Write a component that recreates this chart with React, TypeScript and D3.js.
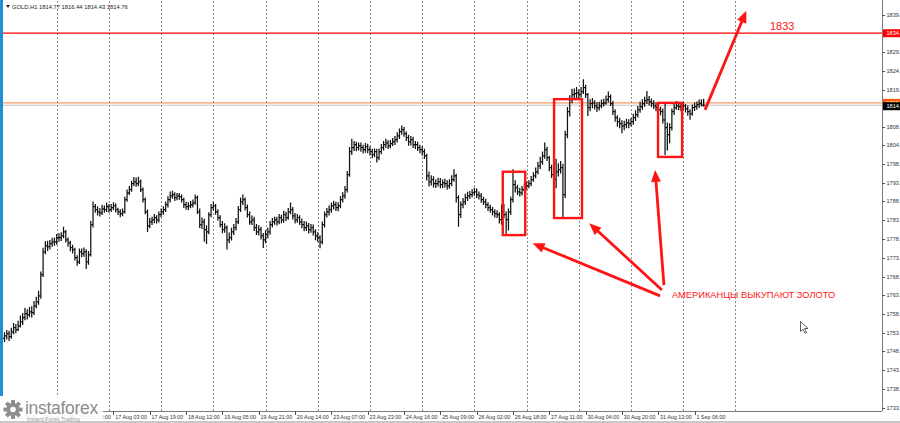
import React from 'react';
import * as d3 from 'd3';

// ---------- DATA ----------
const firstOpen = 1751.8;
const closes: number[] = [
  1752.5, 1753.1, 1752.3, 1753.6, 1754.7, 1754.2, 1755.2, 1756.3, 1757.4, 1758.5,
  1758.2, 1759.0, 1758.8, 1760.6, 1761.7, 1763.3, 1769.0, 1775.2, 1776.8, 1776.6,
  1777.4, 1777.9, 1777.9, 1779.0, 1779.0, 1779.5, 1780.6, 1778.4, 1777.6, 1776.3,
  1775.8, 1773.6, 1772.5, 1775.2, 1774.7, 1775.2, 1772.5, 1774.4, 1782.5, 1787.4,
  1786.6, 1786.0, 1785.7, 1786.8, 1786.6, 1787.4, 1786.6, 1787.1, 1787.6, 1786.6,
  1786.0, 1785.5, 1786.0, 1789.3, 1791.1, 1792.0, 1793.6, 1794.1, 1793.6, 1794.1,
  1792.0, 1789.3, 1786.0, 1782.2, 1783.3, 1783.8, 1784.4, 1783.8, 1785.2, 1786.0,
  1786.6, 1787.9, 1789.3, 1790.3, 1790.6, 1789.8, 1790.3, 1790.1, 1789.3, 1787.9,
  1787.4, 1787.6, 1787.9, 1788.4, 1789.8, 1786.0, 1782.5, 1783.3, 1781.2, 1780.6,
  1785.2, 1787.1, 1787.6, 1786.0, 1784.4, 1782.5, 1781.2, 1781.7, 1778.4, 1779.0,
  1780.6, 1781.7, 1783.3, 1786.6, 1788.7, 1789.3, 1787.1, 1785.2, 1783.3, 1783.8,
  1781.7, 1780.6, 1781.2, 1779.5, 1778.4, 1779.8, 1780.6, 1782.5, 1783.3, 1783.8,
  1783.3, 1784.4, 1783.8, 1785.2, 1784.4, 1786.0, 1786.6, 1784.9, 1783.8, 1784.4,
  1783.3, 1782.5, 1781.7, 1782.2, 1781.2, 1781.7, 1780.6, 1779.5, 1779.0, 1777.9,
  1782.5, 1785.2, 1786.0, 1786.6, 1787.6, 1787.9, 1787.1, 1787.6, 1789.3, 1790.3,
  1792.0, 1796.0, 1802.2, 1803.3, 1804.1, 1803.3, 1803.8, 1803.3, 1802.8, 1803.6,
  1802.8, 1802.2, 1801.4, 1802.2, 1800.6, 1802.2, 1803.3, 1804.1, 1804.6, 1803.8,
  1804.4, 1804.9, 1805.5, 1806.5, 1807.6, 1808.2, 1807.1, 1806.0, 1804.9, 1805.5,
  1804.1, 1804.1, 1803.3, 1802.8, 1802.2, 1801.1, 1795.7, 1794.1, 1794.7, 1793.6,
  1793.6, 1794.1, 1793.3, 1793.8, 1793.6, 1793.0, 1793.6, 1794.7, 1795.7, 1789.8,
  1785.2, 1787.9, 1788.7, 1789.8, 1790.3, 1790.6, 1791.1, 1791.4, 1790.6, 1790.3,
  1789.3, 1788.7, 1787.9, 1787.1, 1786.6, 1786.0, 1785.5, 1785.2, 1783.9, 1787.1,
  1785.2, 1783.9, 1786.0, 1789.3, 1793.3, 1792.5, 1791.4, 1791.1, 1792.0, 1792.8,
  1793.0, 1793.6, 1794.7, 1795.7, 1796.8, 1798.4, 1799.5, 1801.1, 1802.8, 1800.6,
  1797.9, 1796.0, 1794.7, 1796.8, 1797.4, 1797.9, 1790.6, 1806.8, 1813.0, 1816.3,
  1817.6, 1817.9, 1818.1, 1817.6, 1818.4, 1819.5, 1817.6, 1814.1, 1815.2, 1815.4,
  1814.6, 1814.1, 1814.6, 1815.2, 1815.4, 1816.3, 1817.1, 1815.2, 1813.0, 1811.4,
  1810.3, 1809.8, 1809.2, 1809.5, 1810.0, 1809.8, 1810.3, 1811.4, 1812.2, 1813.5,
  1814.4, 1815.2, 1816.0, 1816.3, 1815.7, 1815.2, 1814.6, 1814.1, 1813.5, 1813.0,
  1810.8, 1808.7, 1806.8, 1808.7, 1813.0, 1814.1, 1814.6, 1814.4, 1814.1, 1814.6,
  1813.8, 1813.0, 1812.5, 1814.1, 1814.4, 1814.9, 1815.2, 1814.77, 1814.76,
];
const highs: number[] = [
  1753.4, 1754.0, 1753.8, 1754.6, 1755.9, 1755.6, 1756.5, 1757.9, 1758.6, 1760.0,
  1759.6, 1760.2, 1760.4, 1761.8, 1763.0, 1764.6, 1769.8, 1776.2, 1778.0, 1778.1,
  1778.3, 1778.9, 1779.0, 1779.9, 1780.1, 1780.4, 1781.9, 1781.0, 1779.0, 1778.1,
  1777.0, 1776.2, 1774.2, 1776.0, 1776.0, 1776.3, 1775.8, 1775.3, 1783.4, 1788.7,
  1788.0, 1787.4, 1786.9, 1787.8, 1787.6, 1788.4, 1788.0, 1788.0, 1788.5, 1788.2,
  1787.0, 1786.6, 1786.8, 1790.0, 1791.9, 1792.9, 1794.3, 1795.3, 1795.2, 1795.4,
  1794.6, 1792.5, 1789.8, 1786.5, 1784.2, 1784.6, 1785.3, 1785.0, 1786.0, 1786.8,
  1787.4, 1788.7, 1790.1, 1791.4, 1791.6, 1791.2, 1791.0, 1791.0, 1790.6, 1789.7,
  1788.6, 1788.5, 1788.8, 1789.2, 1790.6, 1790.3, 1786.8, 1784.4, 1784.0, 1782.3,
  1785.8, 1788.0, 1788.6, 1788.0, 1786.6, 1785.0, 1783.4, 1782.8, 1782.2, 1780.3,
  1781.6, 1782.6, 1784.2, 1787.5, 1789.8, 1790.6, 1789.8, 1787.9, 1786.0, 1784.9,
  1784.6, 1782.6, 1782.3, 1781.9, 1780.2, 1780.9, 1781.6, 1783.4, 1784.2, 1784.6,
  1784.6, 1785.3, 1785.1, 1786.2, 1785.9, 1786.9, 1788.4, 1787.2, 1785.6, 1785.3,
  1785.0, 1784.1, 1783.4, 1783.3, 1782.9, 1782.6, 1782.5, 1781.2, 1780.4, 1779.6,
  1783.3, 1786.0, 1786.9, 1787.6, 1788.4, 1788.9, 1788.6, 1788.5, 1790.2, 1791.2,
  1792.9, 1796.9, 1803.4, 1805.6, 1805.0, 1804.8, 1804.6, 1804.6, 1804.0, 1804.5,
  1804.3, 1803.6, 1802.9, 1803.0, 1802.9, 1803.0, 1804.2, 1805.0, 1805.6, 1805.2,
  1805.3, 1805.8, 1806.4, 1807.4, 1808.4, 1809.2, 1808.8, 1807.6, 1806.7, 1806.4,
  1806.2, 1805.0, 1804.8, 1804.0, 1803.6, 1802.9, 1801.6, 1796.8, 1795.8, 1795.5,
  1794.6, 1795.1, 1795.0, 1794.6, 1794.8, 1794.4, 1794.7, 1795.8, 1797.4, 1796.2,
  1790.4, 1788.7, 1789.6, 1790.8, 1791.3, 1791.5, 1792.0, 1792.4, 1792.2, 1791.4,
  1791.0, 1790.0, 1789.4, 1788.5, 1787.8, 1787.2, 1786.6, 1786.3, 1785.8, 1787.9,
  1788.0, 1786.0, 1786.8, 1790.0, 1797.4, 1794.4, 1793.2, 1792.4, 1792.9, 1793.6,
  1794.0, 1794.4, 1795.6, 1796.6, 1797.9, 1799.4, 1800.8, 1802.2, 1804.6, 1803.5,
  1801.0, 1798.6, 1796.8, 1800.2, 1799.0, 1799.6, 1798.9, 1807.8, 1814.2, 1817.4,
  1819.1, 1819.2, 1819.6, 1819.0, 1819.6, 1821.7, 1820.2, 1818.0, 1816.3, 1816.6,
  1816.0, 1815.5, 1815.6, 1816.2, 1816.4, 1817.3, 1818.4, 1817.6, 1815.8, 1813.6,
  1812.0, 1811.3, 1810.6, 1810.5, 1811.0, 1810.9, 1811.2, 1812.4, 1813.3, 1814.5,
  1815.6, 1816.3, 1817.0, 1818.5, 1817.2, 1816.5, 1816.0, 1815.4, 1814.8, 1814.3,
  1813.8, 1815.4, 1810.0, 1809.8, 1813.8, 1815.2, 1815.8, 1815.6, 1815.4, 1815.6,
  1815.0, 1814.6, 1813.6, 1814.9, 1815.4, 1815.7, 1816.2, 1816.3, 1816.44,
];
const lows: number[] = [
  1750.9, 1751.6, 1751.2, 1751.8, 1753.0, 1753.3, 1753.8, 1754.8, 1755.5, 1756.8,
  1757.0, 1757.6, 1757.5, 1758.2, 1760.0, 1761.0, 1762.6, 1768.5, 1774.6, 1775.5,
  1775.9, 1776.6, 1776.9, 1777.2, 1778.0, 1778.2, 1778.9, 1777.8, 1776.6, 1775.4,
  1774.8, 1772.9, 1771.5, 1772.0, 1773.8, 1773.9, 1770.6, 1771.8, 1774.0, 1781.8,
  1785.8, 1785.1, 1784.8, 1785.2, 1785.8, 1786.0, 1785.9, 1786.0, 1786.5, 1785.9,
  1785.2, 1784.6, 1784.9, 1785.6, 1788.8, 1790.6, 1791.5, 1793.0, 1792.8, 1793.0,
  1791.4, 1788.6, 1785.4, 1780.6, 1781.6, 1782.5, 1783.0, 1782.9, 1783.2, 1784.6,
  1785.3, 1786.0, 1787.2, 1788.6, 1789.6, 1789.0, 1789.2, 1789.3, 1788.6, 1787.1,
  1786.6, 1786.5, 1787.0, 1787.2, 1788.0, 1785.5, 1781.7, 1781.4, 1778.0, 1777.4,
  1780.0, 1784.6, 1786.4, 1785.3, 1783.7, 1781.8, 1780.3, 1780.4, 1775.9, 1777.6,
  1778.3, 1779.8, 1781.0, 1782.8, 1786.0, 1787.9, 1786.4, 1784.5, 1782.6, 1782.5,
  1780.9, 1779.8, 1779.7, 1778.6, 1776.3, 1777.6, 1778.9, 1779.9, 1781.8, 1782.6,
  1782.4, 1782.7, 1783.0, 1783.1, 1783.6, 1783.9, 1785.4, 1784.0, 1782.9, 1783.1,
  1782.5, 1781.6, 1780.8, 1780.9, 1780.2, 1780.4, 1779.7, 1778.4, 1777.9, 1776.2,
  1777.3, 1781.8, 1784.5, 1785.1, 1785.8, 1786.7, 1786.3, 1786.2, 1787.0, 1788.6,
  1789.6, 1791.3, 1795.5, 1801.4, 1802.5, 1802.4, 1802.6, 1802.3, 1801.8, 1802.0,
  1801.9, 1801.3, 1800.5, 1800.8, 1799.4, 1800.0, 1801.6, 1802.6, 1803.3, 1803.0,
  1803.2, 1803.8, 1804.1, 1804.8, 1805.7, 1806.9, 1806.3, 1805.2, 1803.9, 1804.0,
  1803.3, 1803.0, 1802.5, 1801.9, 1801.3, 1800.3, 1794.5, 1792.9, 1793.2, 1792.6,
  1792.5, 1792.9, 1792.4, 1792.5, 1792.6, 1792.0, 1792.3, 1793.0, 1794.2, 1788.6,
  1782.0, 1784.4, 1787.0, 1787.9, 1789.0, 1789.5, 1790.0, 1790.4, 1789.8, 1789.4,
  1788.5, 1787.9, 1787.0, 1786.3, 1785.8, 1785.1, 1784.5, 1784.4, 1782.9, 1782.6,
  1784.3, 1780.1, 1781.0, 1785.2, 1788.6, 1791.3, 1790.6, 1790.2, 1790.5, 1791.5,
  1792.1, 1792.4, 1793.0, 1794.2, 1795.1, 1796.2, 1797.6, 1798.8, 1800.4, 1799.8,
  1797.0, 1795.2, 1793.8, 1792.4, 1795.6, 1796.4, 1784.6, 1789.8, 1805.9, 1811.8,
  1815.4, 1816.6, 1816.8, 1816.5, 1816.9, 1817.9, 1816.8, 1811.9, 1813.2, 1814.0,
  1813.7, 1813.0, 1813.4, 1814.0, 1814.5, 1815.0, 1815.6, 1814.6, 1812.2, 1810.4,
  1809.0, 1808.6, 1807.3, 1808.1, 1808.6, 1808.6, 1809.1, 1809.6, 1810.6, 1811.5,
  1812.8, 1813.6, 1814.4, 1815.2, 1814.8, 1814.3, 1813.8, 1813.2, 1812.6, 1812.1,
  1809.9, 1801.4, 1802.6, 1804.6, 1808.0, 1812.2, 1813.6, 1813.5, 1813.2, 1813.5,
  1812.9, 1812.0, 1810.9, 1812.0, 1813.3, 1813.6, 1814.1, 1814.5, 1814.43,
];

const priceTicks = [1839.2, 1829.2, 1824.1, 1819.0, 1808.9, 1804.0, 1798.9, 1793.8, 1788.8,
  1783.7, 1778.6, 1773.5, 1768.4, 1763.5, 1758.5, 1753.4, 1748.3, 1743.4, 1738.2, 1733.1];
const timeTickBars = [0, 16, 32, 48, 64, 80, 96, 112, 128, 144, 160, 176, 192, 208, 224, 240, 256, 272, 288, 304];
const timeTickLabels = ['13 Aug 2021', '13 Aug 17:00', '16 Aug 10:00', '17 Aug 03:00', '17 Aug 19:00',
  '18 Aug 12:00', '19 Aug 05:00', '19 Aug 21:00', '20 Aug 14:00', '23 Aug 07:00', '23 Aug 23:00',
  '24 Aug 16:00', '25 Aug 09:00', '26 Aug 02:00', '26 Aug 18:00', '27 Aug 11:00', '30 Aug 04:00',
  '30 Aug 20:00', '31 Aug 13:00', '1 Sep 06:00'];
const dayStartBars = [23, 46, 69, 92, 115, 138, 161, 184, 207, 230, 253, 276, 299, 322];

const levelPrice = 1834.2;
const askPrice = 1815.4;
const bidPrice = 1814.76;
const headerText = 'GOLD,H1  1814.77 1816.44 1814.43 1814.76';

// annotation boxes: [startBar, endBar, lowPrice, highPrice]
const boxes: [number, number, number, number][] = [
  [219.5, 229.4, 1779.7, 1796.8],
  [242.1, 254.4, 1784.3, 1816.4],
  [287.9, 298.5, 1800.8, 1815.4],
];
// arrows: [fromBar, fromPrice, toBar, toPrice]
const arrows: [number, number, number, number][] = [
  [288.8, 1763.3, 232.6, 1777.5],
  [289.6, 1764.9, 257.6, 1782.9],
  [290.5, 1766.2, 286.6, 1797.3],
  [308.6, 1813.5, 326.8, 1840.3],
];
const targetLabel = '1833';
const targetLabelPos: [number, number] = [337.2, 1835.0];
const noteText = 'АМЕРИКАНЦЫ ВЫКУПАЮТ ЗОЛОТО';
const notePos: [number, number] = [294.0, 1762.7];

// ---------- LAYOUT ----------
const W = 900, H = 423;
const plotLeft = 3, plotRight = 882, plotTop = 1, plotBottom = 411;
const x = d3.scaleLinear().domain([0, 308]).range([4.5, 4.5 + 308 * 2.27]);
const y = d3.scaleLinear().domain([1733.1, 1839.2]).range([407.7, 14.7]);
const FONT = '"Liberation Sans", Arial, sans-serif';
const RED = '#ff1414';
const AXF = 5.6;

function arrowHead(x1: number, y1: number, x2: number, y2: number, len = 12, half = 5) {
  const a = Math.atan2(y2 - y1, x2 - x1);
  const bx = x2 - len * Math.cos(a), by = y2 - len * Math.sin(a);
  const px = -Math.sin(a) * half, py = Math.cos(a) * half;
  return `M${x2},${y2}L${bx + px},${by + py}L${bx - px},${by - py}Z`;
}

export default function App() {
  const bars = closes.map((c, i) => {
    const o = i === 0 ? firstOpen : closes[i - 1];
    return { i, o, h: highs[i], l: lows[i], c };
  });
  const barPath = bars.map(b => {
    const cx = x(b.i);
    const yo = y(b.o), yc = y(b.c);
    return `M${cx},${y(b.h) - 0.3}V${y(b.l) + 0.3}M${cx - 1.4},${yo}H${cx}M${cx},${yc}H${cx + 1.4}`;
  }).join('');
  const snap = (v: number) => Math.round(v) + 0.5;

  return (
    <svg width={W} height={H} style={{ position: 'absolute', left: 0, top: 0, background: '#fff' }}
      fontFamily={FONT}>
      <rect x={0} y={0} width={W} height={H} fill="#fff" />
      {/* left blue strip */}
      <rect x={0} y={0} width={3} height={396} fill="#1e8fd6" />
      {/* vertical day grid */}
      {dayStartBars.map(d => (
        <line key={d} x1={snap(x(d))} x2={snap(x(d))} y1={plotTop} y2={plotBottom}
          stroke="#8a8a8a" strokeDasharray="2,2" strokeWidth={1} />
      ))}
      {/* level line */}
      <line x1={plotLeft} x2={plotRight} y1={y(levelPrice)} y2={y(levelPrice)}
        stroke="red" strokeWidth={1.2} />
      {/* ask / bid lines */}
      <line x1={plotLeft} x2={plotRight} y1={y(askPrice)} y2={y(askPrice)}
        stroke="#f79a6a" strokeWidth={1.1} />
      <line x1={plotLeft} x2={plotRight} y1={y(bidPrice)} y2={y(bidPrice)}
        stroke="#c4c4c4" strokeWidth={1} />
      {/* bars */}
      <path d={barPath} stroke="#111" strokeWidth={1.25} fill="none" />
      {/* annotation boxes */}
      {boxes.map((b, k) => (
        <rect key={k} x={x(b[0])} y={y(b[3])} width={x(b[1]) - x(b[0])} height={y(b[2]) - y(b[3])}
          fill="none" stroke={RED} strokeWidth={2.4} />
      ))}
      {/* arrows */}
      {arrows.map((a, k) => {
        const x1 = x(a[0]), y1 = y(a[1]), x2 = x(a[2]), y2 = y(a[3]);
        const ang = Math.atan2(y2 - y1, x2 - x1);
        const ex = x2 - 9 * Math.cos(ang), ey = y2 - 9 * Math.sin(ang);
        return (
          <g key={k}>
            <line x1={x1} y1={y1} x2={ex} y2={ey} stroke={RED} strokeWidth={2.8} />
            <path d={arrowHead(x1, y1, x2, y2)} fill={RED} />
          </g>
        );
      })}
      <text x={x(targetLabelPos[0])} y={y(targetLabelPos[1])} fill={RED} fontSize={11}>{targetLabel}</text>
      <text x={x(notePos[0])} y={y(notePos[1])} fill={RED} fontSize={9.3}>{noteText}</text>
      {/* header */}
      <path d="M6,5 L10,5 L8,8 Z" fill="#222" />
      <text x={12} y={9} fontSize={5.8} fill="#222">{headerText}</text>
      {/* right axis */}
      <line x1={plotRight + 0.5} x2={plotRight + 0.5} y1={0} y2={plotBottom} stroke="#7a7a7a" />
      {priceTicks.map(p => (
        <g key={p}>
          <line x1={plotRight} x2={plotRight + 3} y1={snap(y(p))} y2={snap(y(p))} stroke="#555" />
          <text x={plotRight + 4.5} y={y(p) + 2} fontSize={AXF} fill="#333">{p.toFixed(1)}</text>
        </g>
      ))}
      {/* price labels */}
      <rect x={plotRight + 1} y={y(levelPrice) - 4} width={20} height={8} fill="#ff0000" />
      <text x={plotRight + 4.5} y={y(levelPrice) + 2} fontSize={AXF} fill="#fff">{levelPrice.toFixed(1)}</text>
      <rect x={plotRight + 1} y={y(askPrice) - 4} width={20} height={8} fill="#ff5a10" />
      <text x={plotRight + 4.5} y={y(askPrice) + 2} fontSize={AXF} fill="#fff">{askPrice.toFixed(1)}</text>
      <rect x={plotRight + 1} y={y(bidPrice) - 3} width={20} height={8} fill="#000" />
      <text x={plotRight + 4.5} y={y(bidPrice) + 3} fontSize={AXF} fill="#fff">{bidPrice.toFixed(2)}</text>
      {/* bottom axis */}
      <line x1={plotLeft} x2={plotRight} y1={plotBottom + 0.5} y2={plotBottom + 0.5} stroke="#7a7a7a" />
      {timeTickBars.map((b, k) => (
        <g key={b}>
          <line x1={snap(x(b))} x2={snap(x(b))} y1={plotBottom} y2={plotBottom + 4} stroke="#555" />
          <text x={x(b) + 1.8} y={418.8} fontSize={5.4} fill="#333">{timeTickLabels[k]}</text>
        </g>
      ))}
      <rect x={0} y={421} width={W} height={2} fill="#c8c8c8" />
      {/* cursor */}
      <path d="M800.5,321.5 v10 l2.5,-2.4 l2,4.2 l1.6,-0.8 l-2,-4 h3.4 z" fill="#fff" stroke="#333" strokeWidth={0.8} />
      {/* logo */}
      <rect x={0} y={396} width={103} height={25} fill="#fff" opacity={0.88} />
      <g transform="translate(13,409.5)" fill="#8d8d8d">
        {d3.range(8).map(k => (
          <rect key={k} x={-2} y={-9.5} width={4} height={5} rx={0.8} transform={`rotate(${k * 45})`} />
        ))}
        <circle r={6.5} />
        <circle r={2.8} fill="#fff" />
      </g>
      <text x={25} y={414} fontSize={17.5} fill="#8d8d8d" letterSpacing={-0.3}>instaforex</text>
      <text x={27} y={421} fontSize={5.6} fill="#9a9a9a">Instant Forex Trading</text>
    </svg>
  );
}
